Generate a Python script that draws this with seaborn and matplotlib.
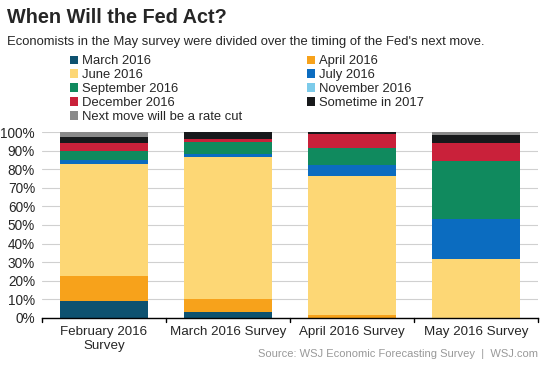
import matplotlib
matplotlib.use("Agg")
import matplotlib.pyplot as plt
import seaborn as sns
import pandas as pd
import numpy as np
from matplotlib.patches import Patch

surveys = ["February 2016\nSurvey", "March 2016 Survey", "April 2016 Survey", "May 2016 Survey"]
series = ["March 2016", "April 2016", "June 2016", "July 2016", "September 2016",
          "November 2016", "December 2016", "Sometime in 2017", "Next move will be a rate cut"]
colors = ["#0e5270", "#f7a21b", "#fdd775", "#0b6cc0", "#108a5e",
          "#7ccbea", "#c9213a", "#17191b", "#8a8a8a"]

march_2016 = [9.0, 2.9, 0.0, 0.0]
april_2016 = [13.4, 7.0, 1.5, 0.0]
june_2016 = [60.3, 76.6, 74.9, 31.5]
july_2016 = [2.4, 1.8, 6.0, 21.6]
sept_2016 = [4.8, 6.3, 9.0, 31.6]
nov_2016 = [0.0, 0.0, 0.0, 0.0]
dec_2016 = [4.5, 1.8, 7.7, 9.7]
in_2017 = [2.9, 3.6, 0.9, 4.4]
rate_cut = [2.7, 0.0, 0.0, 1.2]

values = [march_2016, april_2016, june_2016, july_2016, sept_2016,
          nov_2016, dec_2016, in_2017, rate_cut]

sns.set_style("white")
plt.rcParams['font.family'] = ['Liberation Sans', 'DejaVu Sans']

fig = plt.figure(figsize=(5.45, 3.66), dpi=100)
ax = fig.add_axes([0.077, 0.132, 0.910, 0.5065])

cum = np.cumsum(np.array(values), axis=0)
# draw from top of stack downwards so lower segments overlay higher ones
for i in range(len(series) - 1, -1, -1):
    df = pd.DataFrame({"survey": surveys, "value": cum[i]})
    sns.barplot(data=df, x="survey", y="value", color=colors[i], saturation=1,
                width=0.71, ax=ax, errorbar=None, linewidth=0, zorder=2)

ax.set_ylim(0, 100)
ax.set_xlim(-0.5, 3.5)
ax.set_yticks(np.arange(0, 101, 10))
ax.set_yticklabels([f"{v}%" for v in range(0, 101, 10)], fontsize=9.8)
ax.yaxis.grid(True, color="#d0d0d0", linewidth=0.8, zorder=0)
ax.set_axisbelow(True)
ax.set_xlabel("")
ax.set_ylabel("")
for s in ["top", "right", "left"]:
    ax.spines[s].set_visible(False)
ax.spines["bottom"].set_color("black")
ax.spines["bottom"].set_linewidth(1.0)
ax.tick_params(axis="y", length=0, pad=5)
ax.set_xticks([0, 1, 2, 3])
ax.set_xticklabels(surveys, fontsize=9.6)
ax.tick_params(axis="x", length=0, pad=6)
# boundary ticks
for xb in [-0.5, 0.5, 1.5, 2.5, 3.5]:
    ax.plot([xb, xb], [0, -2.5], color="black", lw=1.0, clip_on=False, zorder=3)

fig.text(0.013, 0.951, "When Will the Fed Act?", fontsize=14.3, fontweight="bold",
         ha="left", va="center")
fig.text(0.013, 0.885, "Economists in the May survey were divided over the timing of the Fed's next move.",
         fontsize=9.4, ha="left", va="center")

handles = [Patch(facecolor=c, edgecolor="none") for c in colors]
col1 = [0, 2, 4, 6, 8]
col2 = [1, 3, 5, 7]
leg_kw = dict(loc="upper left", frameon=False, fontsize=9.4, handlelength=0.6,
              handleheight=0.6, handletextpad=0.3, labelspacing=0.15,
              borderaxespad=0, borderpad=0)
leg1 = fig.legend([handles[i] for i in col1], [series[i] for i in col1],
                  bbox_to_anchor=(0.128, 0.849), **leg_kw)
leg2 = fig.legend([handles[i] for i in col2], [series[i] for i in col2],
                  bbox_to_anchor=(0.564, 0.849), **leg_kw)

fig.text(0.987, 0.032, "Source: WSJ Economic Forecasting Survey  |  WSJ.com",
         fontsize=8, color="#999999", ha="right", va="center")

fig.savefig("out.png", dpi=100)
